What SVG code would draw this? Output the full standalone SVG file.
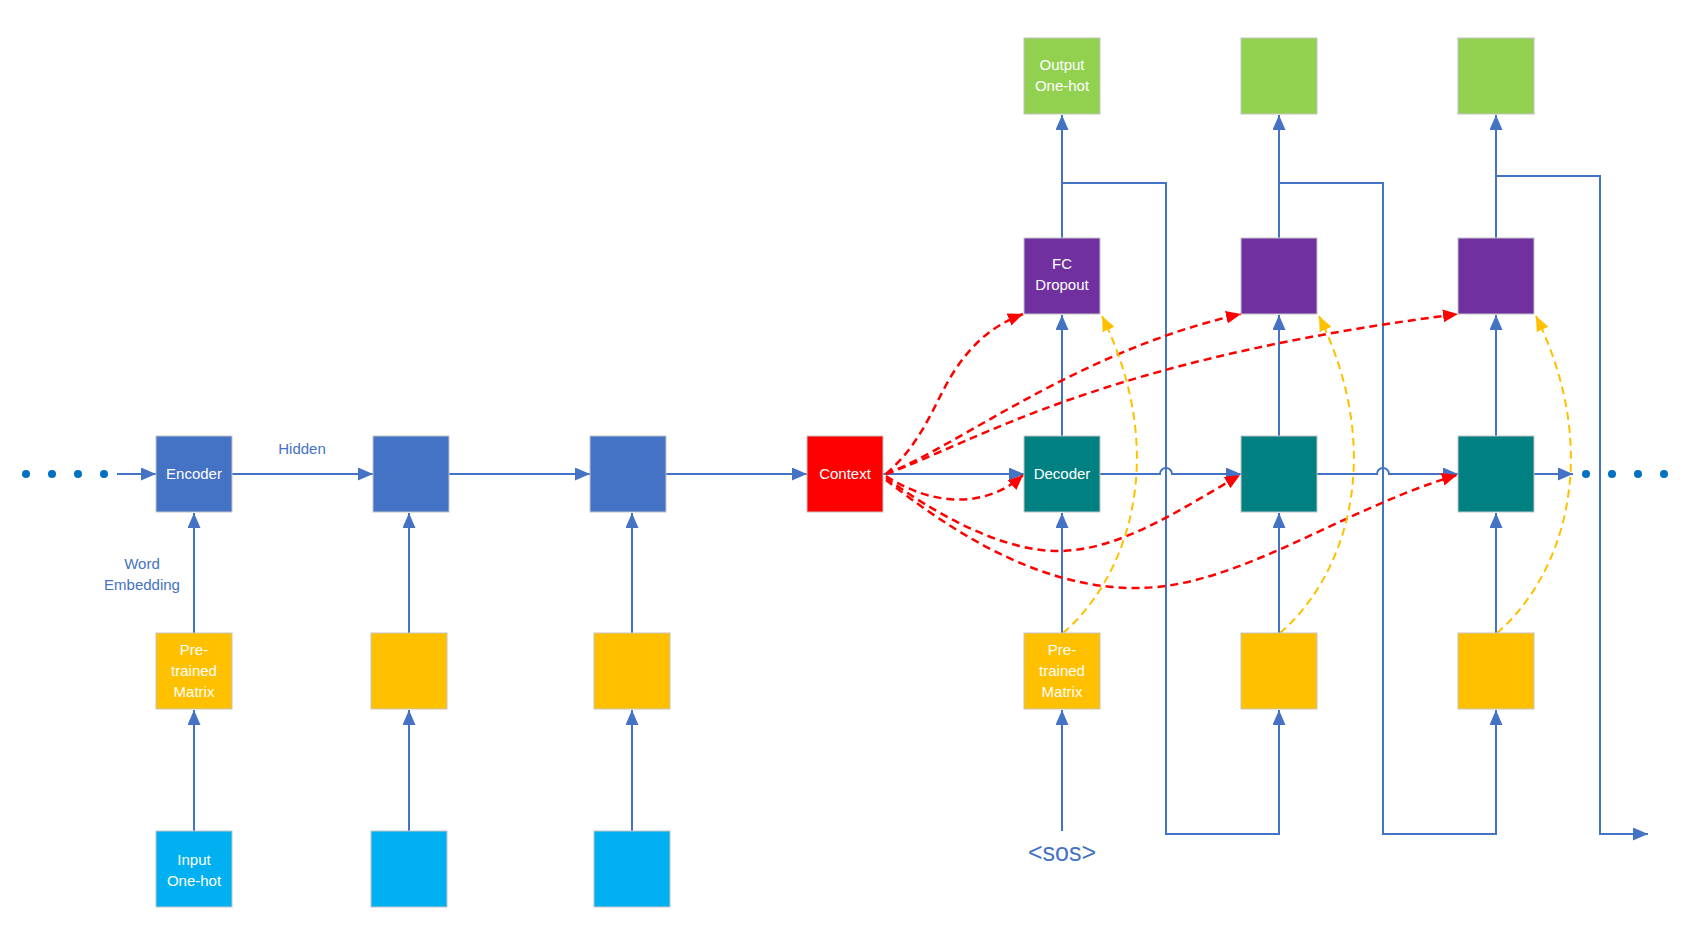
<svg xmlns="http://www.w3.org/2000/svg" width="1702" height="939" viewBox="0 0 1702 939">
<defs>
<style>
.box{stroke:#C4C4C4;stroke-width:1}
.enc{fill:#4472C4}
.inp{fill:#00B0F0}
.pre{fill:#FFC000}
.ctx{fill:#FF0000}
.dec{fill:#008080}
.fc{fill:#7030A0}
.out{fill:#92D050}
.t{font-family:"Liberation Sans",Arial,sans-serif;font-size:15px;fill:#FFFFFF;text-anchor:middle}
.lbl{font-family:"Liberation Sans",Arial,sans-serif;font-size:15px;fill:#4472C4;text-anchor:middle}
.ln{fill:none;stroke:#4472C4;stroke-width:2}
.red{fill:none;stroke:#FF0000;stroke-width:2.5;stroke-dasharray:8 5}
.yel{fill:none;stroke:#FFC000;stroke-width:2;stroke-dasharray:8 5}
.dot{fill:#0070C0}
</style>
<marker id="ab" markerUnits="userSpaceOnUse" markerWidth="16" markerHeight="14" refX="15" refY="6.5" orient="auto">
<path d="M0,0 L15,6.5 L0,13 z" fill="#4472C4"/>
</marker>
<marker id="ar" markerUnits="userSpaceOnUse" markerWidth="16" markerHeight="14" refX="15" refY="6.5" orient="auto">
<path d="M0,0 L15,6.5 L0,13 z" fill="#FF0000"/>
</marker>
<marker id="ay" markerUnits="userSpaceOnUse" markerWidth="16" markerHeight="14" refX="15" refY="6.5" orient="auto">
<path d="M0,0 L15,6.5 L0,13 z" fill="#FFC000"/>
</marker>
</defs>
<rect width="1702" height="939" fill="#FFFFFF"/>

<g id="connectors">
<!-- left dots -->
<circle class="dot" cx="26" cy="474" r="4"/>
<circle class="dot" cx="52" cy="474" r="4"/>
<circle class="dot" cx="78" cy="474" r="4"/>
<circle class="dot" cx="104" cy="474" r="4"/>
<!-- right dots -->
<circle class="dot" cx="1586" cy="474" r="4"/>
<circle class="dot" cx="1612" cy="474" r="4"/>
<circle class="dot" cx="1638" cy="474" r="4"/>
<circle class="dot" cx="1664" cy="474" r="4"/>

<!-- horizontal chain -->
<path class="ln" d="M117,474 H156" marker-end="url(#ab)"/>
<path class="ln" d="M232,474 H373" marker-end="url(#ab)"/>
<path class="ln" d="M449,474 H590" marker-end="url(#ab)"/>
<path class="ln" d="M666,474 H807" marker-end="url(#ab)"/>
<path class="ln" d="M883,474 H1024" marker-end="url(#ab)"/>
<path class="ln" d="M1100,474 H1160 A6,6 0 0 1 1172,474 H1241" marker-end="url(#ab)"/>
<path class="ln" d="M1317,474 H1377 A6,6 0 0 1 1389,474 H1458" marker-end="url(#ab)"/>
<path class="ln" d="M1534,474 H1573" marker-end="url(#ab)"/>

<!-- encoder verticals -->
<path class="ln" d="M194,831 V710" marker-end="url(#ab)"/>
<path class="ln" d="M194,633 V513" marker-end="url(#ab)"/>
<path class="ln" d="M409,831 V710" marker-end="url(#ab)"/>
<path class="ln" d="M409,633 V513" marker-end="url(#ab)"/>
<path class="ln" d="M632,831 V710" marker-end="url(#ab)"/>
<path class="ln" d="M632,633 V513" marker-end="url(#ab)"/>

<!-- decoder verticals -->
<path class="ln" d="M1062,831 V710" marker-end="url(#ab)"/>
<path class="ln" d="M1062,633 V513" marker-end="url(#ab)"/>
<path class="ln" d="M1062,436 V315" marker-end="url(#ab)"/>
<path class="ln" d="M1062,238 V115" marker-end="url(#ab)"/>
<path class="ln" d="M1279,633 V513" marker-end="url(#ab)"/>
<path class="ln" d="M1279,436 V315" marker-end="url(#ab)"/>
<path class="ln" d="M1279,238 V115" marker-end="url(#ab)"/>
<path class="ln" d="M1496,633 V513" marker-end="url(#ab)"/>
<path class="ln" d="M1496,436 V315" marker-end="url(#ab)"/>
<path class="ln" d="M1496,238 V115" marker-end="url(#ab)"/>

<!-- feedback loops -->
<path class="ln" d="M1062,183 H1166 V834 H1279 V710" marker-end="url(#ab)"/>
<path class="ln" d="M1279,183 H1383 V834 H1496 V710" marker-end="url(#ab)"/>
<path class="ln" d="M1496,176 H1600 V834 H1648" marker-end="url(#ab)"/>

<!-- red attention curves -->
<path class="red" d="M886,474 C925,440 935,400 955,370 C975,340 995,325 1023,314" marker-end="url(#ar)"/>
<path class="red" d="M886,474 C960,445 1080,350 1241,314" marker-end="url(#ar)"/>
<path class="red" d="M886,474 C980,440 1100,360 1458,314" marker-end="url(#ar)"/>
<path class="red" d="M886,476 C930,505 985,510 1023,475" marker-end="url(#ar)"/>
<path class="red" d="M886,478 C930,510 1000,552 1060,551 C1120,550 1180,510 1240,475" marker-end="url(#ar)"/>
<path class="red" d="M886,480 C950,530 1040,590 1140,588 C1240,586 1340,510 1457,475" marker-end="url(#ar)"/>

<!-- yellow curves -->
<path class="yel" d="M1063,633 C1125,580 1172,460 1102,316" marker-end="url(#ay)"/>
<path class="yel" d="M1280,633 C1342,580 1389,460 1319,316" marker-end="url(#ay)"/>
<path class="yel" d="M1497,633 C1559,580 1606,460 1536,316" marker-end="url(#ay)"/>
</g>

<g id="labels">
<text class="lbl" x="302" y="454">Hidden</text>
<text class="lbl" x="142" y="569">Word</text>
<text class="lbl" x="142" y="590">Embedding</text>
<text class="lbl" x="1062" y="861" style="font-size:25px">&lt;sos&gt;</text>
</g>

<g id="enc1"><rect class="box enc" x="156" y="436" width="76" height="76"/><text class="t" x="194" y="479">Encoder</text></g>
<g id="enc2"><rect class="box enc" x="373" y="436" width="76" height="76"/></g>
<g id="enc3"><rect class="box enc" x="590" y="436" width="76" height="76"/></g>

<g id="pre1"><rect class="box pre" x="156" y="633" width="76" height="76"/><text class="t" x="194" y="655">Pre-</text><text class="t" x="194" y="676">trained</text><text class="t" x="194" y="697">Matrix</text></g>
<g id="pre2"><rect class="box pre" x="371" y="633" width="76" height="76"/></g>
<g id="pre3"><rect class="box pre" x="594" y="633" width="76" height="76"/></g>

<g id="in1"><rect class="box inp" x="156" y="831" width="76" height="76"/><text class="t" x="194" y="865">Input</text><text class="t" x="194" y="886">One-hot</text></g>
<g id="in2"><rect class="box inp" x="371" y="831" width="76" height="76"/></g>
<g id="in3"><rect class="box inp" x="594" y="831" width="76" height="76"/></g>

<g id="context"><rect class="box ctx" x="807" y="436" width="76" height="76"/><text class="t" x="845" y="479">Context</text></g>

<g id="dec1"><rect class="box dec" x="1024" y="436" width="76" height="76"/><text class="t" x="1062" y="479">Decoder</text></g>
<g id="dec2"><rect class="box dec" x="1241" y="436" width="76" height="76"/></g>
<g id="dec3"><rect class="box dec" x="1458" y="436" width="76" height="76"/></g>

<g id="dpre1"><rect class="box pre" x="1024" y="633" width="76" height="76"/><text class="t" x="1062" y="655">Pre-</text><text class="t" x="1062" y="676">trained</text><text class="t" x="1062" y="697">Matrix</text></g>
<g id="dpre2"><rect class="box pre" x="1241" y="633" width="76" height="76"/></g>
<g id="dpre3"><rect class="box pre" x="1458" y="633" width="76" height="76"/></g>

<g id="fc1"><rect class="box fc" x="1024" y="238" width="76" height="76"/><text class="t" x="1062" y="269">FC</text><text class="t" x="1062" y="290">Dropout</text></g>
<g id="fc2"><rect class="box fc" x="1241" y="238" width="76" height="76"/></g>
<g id="fc3"><rect class="box fc" x="1458" y="238" width="76" height="76"/></g>

<g id="out1"><rect class="box out" x="1024" y="38" width="76" height="76"/><text class="t" x="1062" y="70">Output</text><text class="t" x="1062" y="91">One-hot</text></g>
<g id="out2"><rect class="box out" x="1241" y="38" width="76" height="76"/></g>
<g id="out3"><rect class="box out" x="1458" y="38" width="76" height="76"/></g>
</svg>
